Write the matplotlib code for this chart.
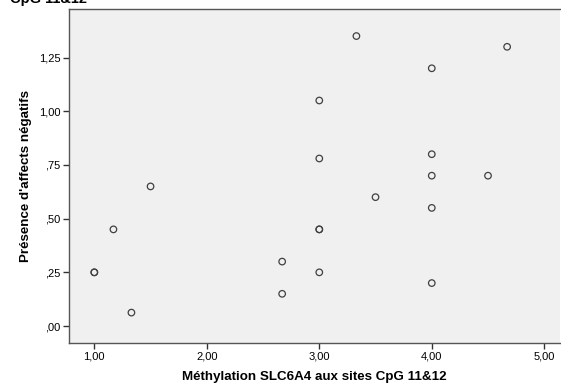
import matplotlib.pyplot as plt
from matplotlib.ticker import FixedLocator, FuncFormatter

plt.rcParams['font.family'] = ['Liberation Sans', 'DejaVu Sans']

# Méthylation SLC6A4 (x) vs présence d'affects négatifs (y)
methylation = [1.00, 1.00, 1.17, 1.33, 1.50, 2.67, 2.67, 3.00, 3.00, 3.00, 3.00, 3.00,
               3.33, 3.50, 4.00, 4.00, 4.00, 4.00, 4.00, 4.50, 4.67]
affects = [0.25, 0.25, 0.45, 0.0625, 0.65, 0.30, 0.15, 1.05, 0.78, 0.45, 0.45, 0.25,
           1.35, 0.60, 1.20, 0.80, 0.70, 0.55, 0.20, 0.70, 1.30]

x_ticks = [1, 2, 3, 4, 5]
y_ticks = [0, 0.25, 0.5, 0.75, 1.0, 1.25]


def spss_fmt(v, pos):
    s = f'{v:.2f}'.replace('.', ',')
    if s.startswith('0,'):
        s = s[1:]
    return s


fig = plt.figure(figsize=(5.61, 3.91), dpi=100)
ax = fig.add_axes([69 / 561, 48 / 391, 491 / 561, 334 / 391])
ax.set_facecolor('#f0f0f0')

ax.scatter(methylation, affects, s=22, facecolors='none', edgecolors='#404040', linewidths=0.9, zorder=3)

ax.set_xlim(0.775, 5.14)
ax.set_ylim(-0.079, 1.476)
ax.xaxis.set_major_locator(FixedLocator(x_ticks))
ax.yaxis.set_major_locator(FixedLocator(y_ticks))
ax.xaxis.set_major_formatter(FuncFormatter(spss_fmt))
ax.yaxis.set_major_formatter(FuncFormatter(spss_fmt))
ax.tick_params(labelsize=8, length=4, width=1, color='#333333', pad=2)

ax.spines['right'].set_visible(False)
for side in ['left', 'bottom', 'top']:
    ax.spines[side].set_color('#555555')
    ax.spines[side].set_linewidth(1)

ax.set_xlabel('Méthylation SLC6A4 aux sites CpG 11&12', fontsize=9.6, fontweight='bold', labelpad=7)
ax.set_ylabel("Présence d'affects négatifs", fontsize=9.6, fontweight='bold', labelpad=5)

fig.text(10 / 561, 1 - 3 / 391, 'CpG 11&12', fontsize=10.5, fontweight='bold', va='baseline', ha='left')

fig.savefig('out.png', dpi=100)
